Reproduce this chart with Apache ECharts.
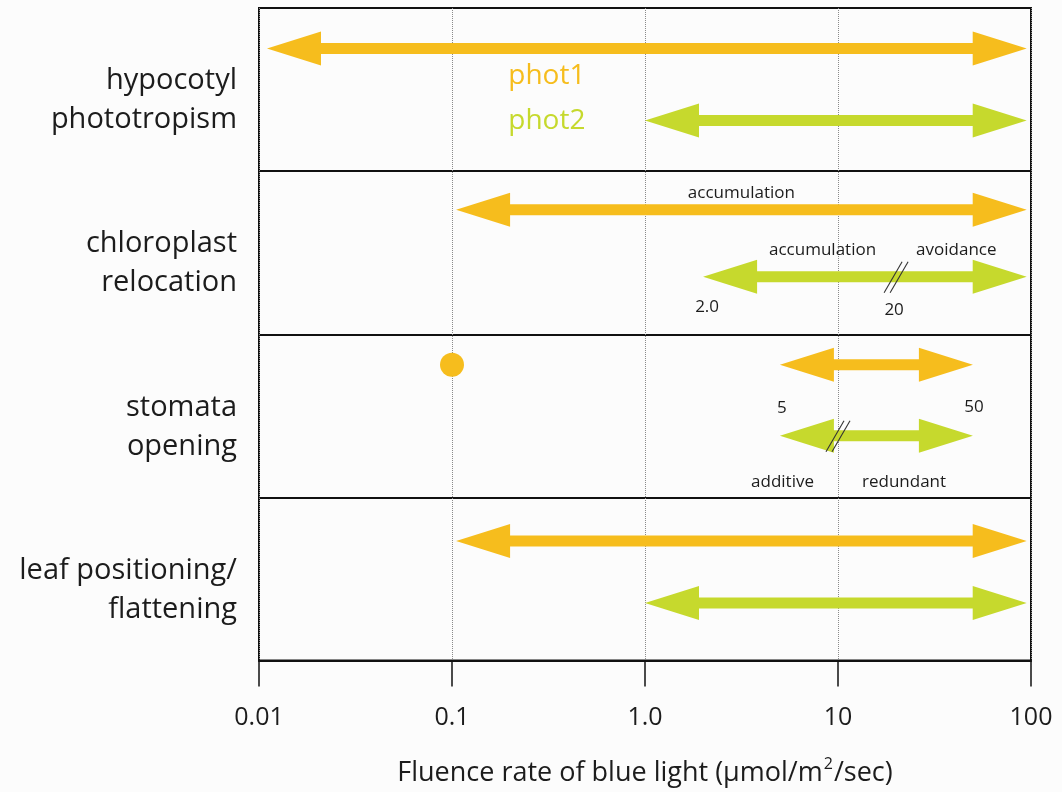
<!DOCTYPE html>
<html>
<head>
<meta charset="utf-8">
<script src="https://cdn.jsdelivr.net/npm/echarts@6/dist/echarts.min.js"></script>
<style>
  html, body { margin: 0; padding: 0; background: #fcfcfc; }
  #chart { width: 1062px; height: 792px; }
</style>
</head>
<body>
<div id="chart"></div>
<script>
// Responses and the blue-light fluence range over which each phototropin acts
const rows = ['hypocotyl\nphototropism', 'chloroplast\nrelocation', 'stomata\nopening', 'leaf positioning/\nflattening'];
const xTickLabels = ['0.01', '0.1', '1.0', '10', '100'];

// phot1 ranges (µmol/m²/sec)
const phot1From = [0.011, 0.105, 5, 0.105];
const phot1To = [95, 95, 50, 95];
// phot2 ranges, with the fluence where the response changes character
const phot2From = [1.0, 2.0, 5, 1.0];
const phot2To = [95, 95, 50, 95];
const phot2Switch = [null, 20, 10, null];

// phot1 acts at a single low fluence for stomata opening
const phot1Point = [null, null, 0.1, null];

// words written along the ranges
const phot1Notes = [null, 'accumulation', null, null];
const phot2Notes = [null, ['accumulation', 'avoidance'], ['additive', 'redundant'], null];
// range ends that carry their value as a label (number = decimals shown)
const phot1EndDigits = [null, null, 0, null];
const phot2StartDigits = [null, 1, null, null];
const phot2SwitchDigits = [null, 0, null, null];

const ORANGE = '#F6BD1D';
const GREEN = '#C6D92D';
const INK = '#1c1c1c';
const FONT = '"Open Sans", "Noto Sans", sans-serif';

// vertical place of each receptor's arrow inside its row (px from band centre)
const laneShift = {
  phot1: [-41, -43, -51, -38],
  phot2: [31, 24, 20, 24]
};

const HEAD_LEN = 54, HEAD_HALF = 17, SHAFT_HALF = 5.5;

function fmt(v, digits) {
  return v.toFixed(digits);
}

function arrowPoints(x1, x2, y) {
  return [
    [x1, y], [x1 + HEAD_LEN, y - HEAD_HALF], [x1 + HEAD_LEN, y - SHAFT_HALF],
    [x2 - HEAD_LEN, y - SHAFT_HALF], [x2 - HEAD_LEN, y - HEAD_HALF], [x2, y],
    [x2 - HEAD_LEN, y + HEAD_HALF], [x2 - HEAD_LEN, y + SHAFT_HALF],
    [x1 + HEAD_LEN, y + SHAFT_HALF], [x1 + HEAD_LEN, y + HEAD_HALF]
  ];
}

function smallText(text, x, y, align) {
  return {
    type: 'text', x: x, y: y, z2: 5,
    style: { text: text, fill: INK, fontSize: 17, fontFamily: FONT, align: align || 'center', verticalAlign: 'middle' }
  };
}

function makeRangeRender(name, fromArr, toArr, color) {
  return function (params, api) {
    const row = api.value(1);
    const from = fromArr[row], to = toArr[row];
    const p0 = api.coord([from, row]);
    const p1 = api.coord([to, row]);
    const y = p0[1] + laneShift[name][row];
    const children = [{ type: 'polygon', shape: { points: arrowPoints(p0[0], p1[0], y) }, style: { fill: color } }];

    if (name === 'phot1') {
      if (phot1Notes[row]) {
        const mid = api.coord([Math.sqrt(from * to), row]);
        children.push(smallText(phot1Notes[row], mid[0], y - 17));
      }
      if (phot1EndDigits[row] != null) {
        children.push(smallText(fmt(from, phot1EndDigits[row]), p0[0] + 2, y + 43));
        children.push(smallText(fmt(to, phot1EndDigits[row]), p1[0] + 1, y + 42));
      }
    } else {
      const sw = phot2Switch[row];
      if (sw != null) {
        const ps = api.coord([sw, row]);
        [-3, 3].forEach(function (d) {
          children.push({
            type: 'line', z2: 4,
            shape: { x1: ps[0] + d - 9, y1: y + 16, x2: ps[0] + d + 9, y2: y - 15 },
            style: { stroke: '#333', lineWidth: 1.1 }
          });
        });
        const notes = phot2Notes[row];
        if (notes) {
          const above = row === 1;
          const ny = above ? y - 27 : y + 46;
          const gap = above ? 20 : 24;
          children.push(smallText(notes[0], ps[0] - gap, ny, 'right'));
          children.push(smallText(notes[1], ps[0] + gap, ny, 'left'));
        }
        if (phot2SwitchDigits[row] != null) children.push(smallText(fmt(sw, phot2SwitchDigits[row]), ps[0] - 2, y + 33));
      }
      if (phot2StartDigits[row] != null) children.push(smallText(fmt(from, phot2StartDigits[row]), p0[0] + 4, y + 30));
    }
    return { type: 'group', children: children };
  };
}

const chart = echarts.init(document.getElementById('chart'));

const option = {
  backgroundColor: '#fcfcfc',
  animation: false,
  grid: { left: 259, right: 31, top: 8, bottom: 130, show: true, borderColor: '#111', borderWidth: 2, backgroundColor: 'transparent' },
  xAxis: {
    type: 'log', logBase: 10, min: 0.01, max: 100, interval: 1,
    axisLine: { show: true, lineStyle: { color: '#111', width: 2 } },
    axisTick: { show: true, length: 26, lineStyle: { color: '#111', width: 1.5 } },
    axisLabel: {
      margin: 45, fontSize: 25, color: INK, fontFamily: FONT,
      formatter: function (v) { return xTickLabels[Math.round(Math.log10(v)) + 2]; }
    },
    splitLine: { show: true, lineStyle: { type: 'dotted', color: '#8a8a8a', width: 1 } },
    minorTick: { show: false },
    name: '{a|Fluence rate of blue light (µmol/m}{b|2}{a|/sec)}',
    nameLocation: 'middle', nameGap: 96,
    nameTextStyle: {
      rich: {
        a: { fontSize: 27, fontFamily: FONT, color: INK, lineHeight: 34 },
        b: { fontSize: 16, fontFamily: FONT, color: INK, lineHeight: 34, verticalAlign: 'top', padding: [0, 1, 0, 1] }
      }
    }
  },
  yAxis: {
    type: 'category', data: rows, inverse: true,
    axisLine: { show: false }, axisTick: { show: false },
    splitLine: { show: true, lineStyle: { color: '#111', width: 2 } },
    axisLabel: {
      margin: 22, align: 'right',
      // a short spacer line above sets the row titles a little below the band centre
      formatter: function (v) {
        return '{gap| }\n' + v.split('\n').map(function (s) { return '{t|' + s + '}'; }).join('\n');
      },
      rich: {
        gap: { fontSize: 10, lineHeight: 22 },
        t: { fontSize: 29, lineHeight: 39, color: INK, fontFamily: FONT, align: 'right' }
      }
    }
  },
  series: [
    {
      type: 'custom', name: 'phot1',
      renderItem: makeRangeRender('phot1', phot1From, phot1To, ORANGE),
      encode: { x: [0, 2], y: 1 },
      data: rows.map(function (_, i) { return [phot1From[i], i, phot1To[i]]; })
    },
    {
      type: 'custom', name: 'phot2',
      renderItem: makeRangeRender('phot2', phot2From, phot2To, GREEN),
      encode: { x: [0, 2], y: 1 },
      data: rows.map(function (_, i) { return [phot2From[i], i, phot2To[i]]; })
    },
    {
      type: 'custom', name: 'phot1 point',
      renderItem: function (params, api) {
        const row = api.value(1);
        const p = api.coord([api.value(0), row]);
        return { type: 'circle', shape: { cx: p[0], cy: p[1] + laneShift.phot1[row], r: 12 }, style: { fill: ORANGE } };
      },
      encode: { x: 0, y: 1 },
      data: phot1Point.map(function (v, i) { return v == null ? null : [v, i]; }).filter(Boolean)
    },
    {
      // receptor names written inside the first row, each in its own colour
      type: 'custom', name: 'receptor names',
      renderItem: function (params, api) {
        const p = api.coord([0.31, 0]);
        const names = [['phot1', ORANGE, -14], ['phot2', GREEN, 31]];
        const n = names[params.dataIndex];
        return {
          type: 'text', x: p[0], y: p[1] + n[2],
          style: { text: n[0], fill: n[1], fontSize: 28, fontFamily: FONT, align: 'center', verticalAlign: 'middle' }
        };
      },
      encode: { x: 0, y: 1 },
      data: [[0.31, 0], [0.31, 0]]
    }
  ]
};

chart.setOption(option);
</script>
</body>
</html>
